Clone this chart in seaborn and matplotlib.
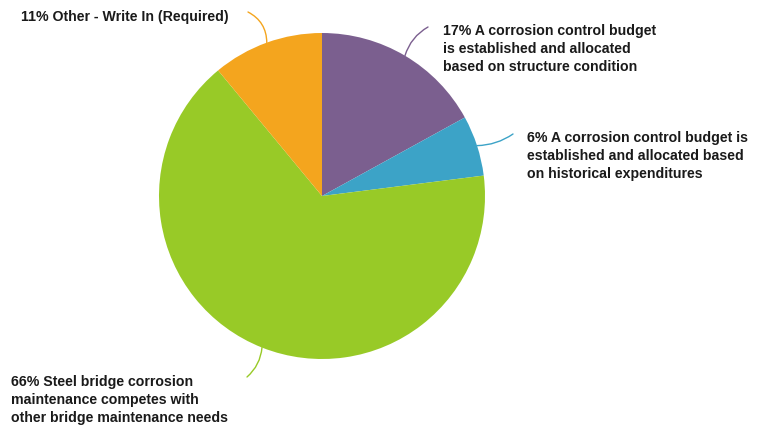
import numpy as np
import matplotlib
matplotlib.use("Agg")
import matplotlib.pyplot as plt
import seaborn as sns

# Survey responses, clockwise from 12 o'clock
labels = [
    "17% A corrosion control budget\nis established and allocated\nbased on structure condition",
    "6% A corrosion control budget is\nestablished and allocated based\non historical expenditures",
    "66% Steel bridge corrosion\nmaintenance competes with\nother bridge maintenance needs",
    "11% Other - Write In (Required)",
]
shares = [17, 6, 66, 11]
colors = ["#7B5F8F", "#3CA3C7", "#98CA27", "#F4A51E"]

sns.set_theme(style="white")
plt.rcParams["font.family"] = ["Liberation Sans", "DejaVu Sans"]

W, H = 758, 428
fig = plt.figure(figsize=(W / 100, H / 100), dpi=100)
ax = fig.add_axes([0, 0, 1, 1])

cx, cy, r = 322, H - 196, 163
wedges, _ = ax.pie(shares, colors=colors, startangle=90, counterclock=False,
                   center=(cx, cy), radius=r, frame=True,
                   wedgeprops=dict(linewidth=0))
ax.set_xlim(0, W)
ax.set_ylim(0, H)
ax.set_aspect("equal")
ax.axis("off")

# label anchor (top-left), leader-line end, curvature
label_pos = [(443, H - 24), (527, H - 131), (11, H - 375), (21, H - 10)]
line_end = [(428, H - 27), (513, H - 134), (247, H - 377), (248, H - 12)]
rads = [-0.2, 0.15, -0.2, 0.3]

for w, lab, col, (tx, ty), (ex, ey), rad in zip(wedges, labels, colors,
                                               label_pos, line_end, rads):
    mid = np.deg2rad((w.theta1 + w.theta2) / 2)
    sx, sy = cx + r * np.cos(mid), cy + r * np.sin(mid)
    ax.annotate("", xy=(ex, ey), xytext=(sx, sy),
                arrowprops=dict(arrowstyle="-", color=col, lw=1.0,
                                shrinkA=0, shrinkB=0,
                                connectionstyle=f"arc3,rad={rad}"))
    ax.text(tx, ty, lab, ha="left", va="top", fontsize=10.2, fontweight="bold",
            color="#1a1a1a", linespacing=1.36)

fig.savefig("out.png", dpi=100)
